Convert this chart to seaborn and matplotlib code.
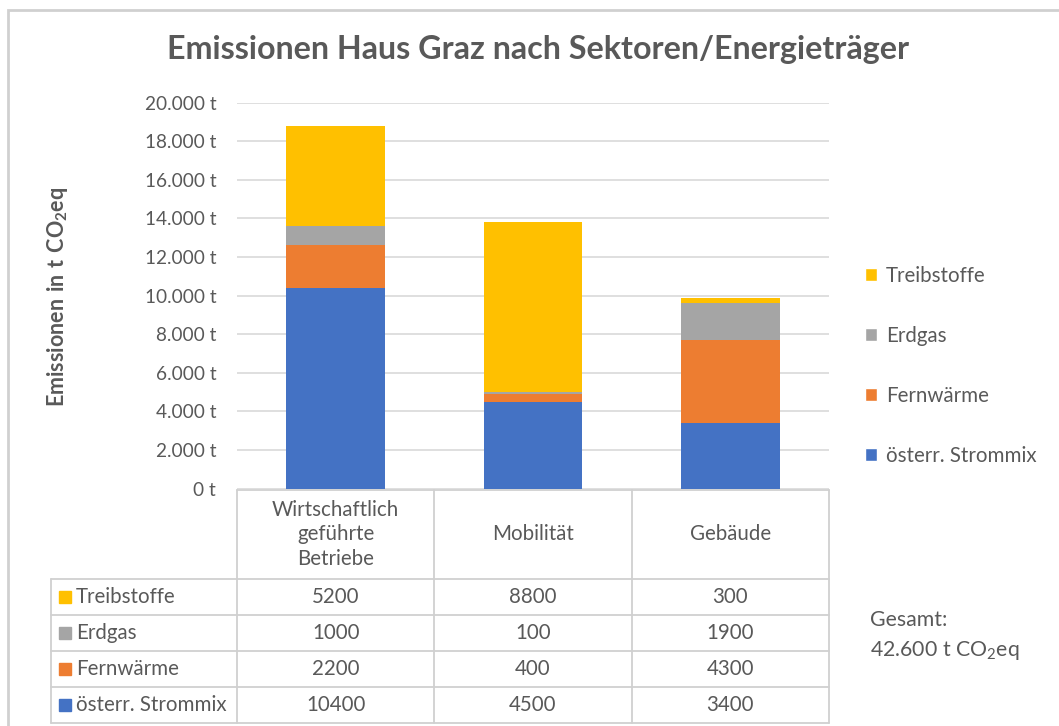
import matplotlib
matplotlib.use("Agg")
import matplotlib.pyplot as plt
import seaborn as sns
import pandas as pd
from matplotlib.patches import Patch
from matplotlib.ticker import FuncFormatter

# data
categories = ["Wirtschaftlich\ngeführte\nBetriebe", "Mobilität", "Gebäude"]
sources = ["österr. Strommix", "Fernwärme", "Erdgas", "Treibstoffe"]
strommix = [10400, 4500, 3400]
fernwaerme = [2200, 400, 4300]
erdgas = [1000, 100, 1900]
treibstoffe = [5200, 8800, 300]
colors = ["#4472C4", "#ED7D31", "#A5A5A5", "#FFC000"]
yticks = [0, 2000, 4000, 6000, 8000, 10000, 12000, 14000, 16000, 18000, 20000]
total_label = "42.600 t CO$_2$eq"

sns.set_style("white")
FONT = "Lato"
plt.rcParams["font.family"] = [FONT, "DejaVu Sans"]
plt.rcParams["mathtext.fontset"] = "custom"
plt.rcParams["mathtext.rm"] = FONT
plt.rcParams["mathtext.bf"] = FONT + ":bold"
TXT = "#595959"
GRID = "#D9D9D9"
FS = 14.8

W, H = 1059, 726
fig = plt.figure(figsize=(W / 100, H / 100), dpi=100)

# outer frame like the Excel chart area
fig.add_artist(plt.Rectangle((8 / W, -0.01), 1.1, 1 - 10 / H + 0.01,
                             transform=fig.transFigure, fill=False,
                             edgecolor="#D0D0D0", linewidth=2))

# main plot area
left, right = 237 / W, 829 / W
ax = fig.add_axes([left, 1 - 488.7 / H, right - left, (488.7 - 102.5) / H])

df = pd.DataFrame({"Kategorie": categories, sources[0]: strommix, sources[1]: fernwaerme,
                   sources[2]: erdgas, sources[3]: treibstoffe})
series = [strommix, fernwaerme, erdgas, treibstoffe]
cum = []
run = [0, 0, 0]
for s in series:
    run = [a + b for a, b in zip(run, s)]
    cum.append(run)

# draw from tallest stack down so each layer covers the one above it
for i in range(len(series) - 1, -1, -1):
    df["_h"] = cum[i]
    sns.barplot(data=df, x="Kategorie", y="_h", color=colors[i], saturation=1,
                width=0.5, ax=ax, linewidth=0, zorder=3)

ax.set_ylim(0, 20000)
ax.set_xlim(-0.5, 2.5)
ax.set_yticks(yticks)
ax.yaxis.set_major_formatter(FuncFormatter(lambda v, p: f"{int(v):,} t".replace(",", ".")))
ax.yaxis.grid(True, color=GRID, linewidth=1.2, zorder=0)
ax.xaxis.grid(False)
ax.set_axisbelow(True)
for sp in ax.spines.values():
    sp.set_visible(False)
ax.tick_params(axis="y", length=0, pad=15, labelsize=13.7, labelcolor=TXT)
ax.set_xticks([])
ax.set_xlabel("")
ax.set_ylabel(r"$\mathbf{Emissionen\ in\ t\ CO_2eq}$", fontsize=15.5, color=TXT)
ax.yaxis.set_label_coords((58 - 237) / (829 - 237), (488.7 - 297) / (488.7 - 102.5))
ax.yaxis.label.set_va("center")

fig.text(538 / W, 1 - 50 / H, "Emissionen Haus Graz nach Sektoren/Energieträger",
         ha="center", va="center", fontsize=23.2, fontweight="bold", color=TXT)

# data table under the bars
tab_left = 51 / W
units_per_px = 3 / (829 - 237)
x0 = -0.5 - (237 - 51) * units_per_px
head = 2.47
tab = fig.add_axes([tab_left, 1 - 723 / H, right - tab_left, (723 - 490) / H])
tab.set_xlim(x0, 2.5)
tab.set_ylim(0, 4 + head)
tab.axis("off")
lc = "#D0D0D0"
for r in range(5):
    tab.plot([x0, 2.5], [r, r], color=lc, lw=1.3, clip_on=False)
tab.plot([-0.5, 2.5], [4 + head, 4 + head], color=lc, lw=1.3, clip_on=False)
tab.plot([x0, x0], [0, 4], color=lc, lw=1.3, clip_on=False)
for c in range(4):
    tab.plot([c - 0.5, c - 0.5], [0, 4 + head], color=lc, lw=1.3, clip_on=False)

for j, cat in enumerate(categories):
    tab.text(j, 4 + head / 2, cat, ha="center", va="center", fontsize=FS, color=TXT,
             linespacing=1.3)
for i, (name, vals) in enumerate(zip(sources, series)):
    yc = i + 0.5
    tab.plot([x0 + 14 * units_per_px], [yc], marker="s", markersize=9.3, color=colors[i],
             linestyle="none")
    tab.text(x0 + 25 * units_per_px, yc, name, ha="left", va="center", fontsize=FS,
             color=TXT)
    for j, v in enumerate(vals):
        tab.text(j, yc, str(v), ha="center", va="center", fontsize=FS, color=TXT)

# legend on the right, top entry = top of stack
handles = [Patch(facecolor=colors[i], label=sources[i]) for i in range(3, -1, -1)]
fig.legend(handles=handles, loc="center left", bbox_to_anchor=(846 / W, 1 - 366 / H),
           frameon=False, fontsize=FS, labelcolor=TXT, handlelength=0.6,
           handleheight=0.6, handletextpad=0.45, labelspacing=1.95)

fig.text(870 / W, 1 - 620 / H, "Gesamt:", ha="left", va="center", fontsize=15.3, color=TXT)
fig.text(870 / W, 1 - 651 / H, total_label, ha="left", va="center", fontsize=15.3,
         color=TXT)

fig.savefig("out.png", dpi=100)
